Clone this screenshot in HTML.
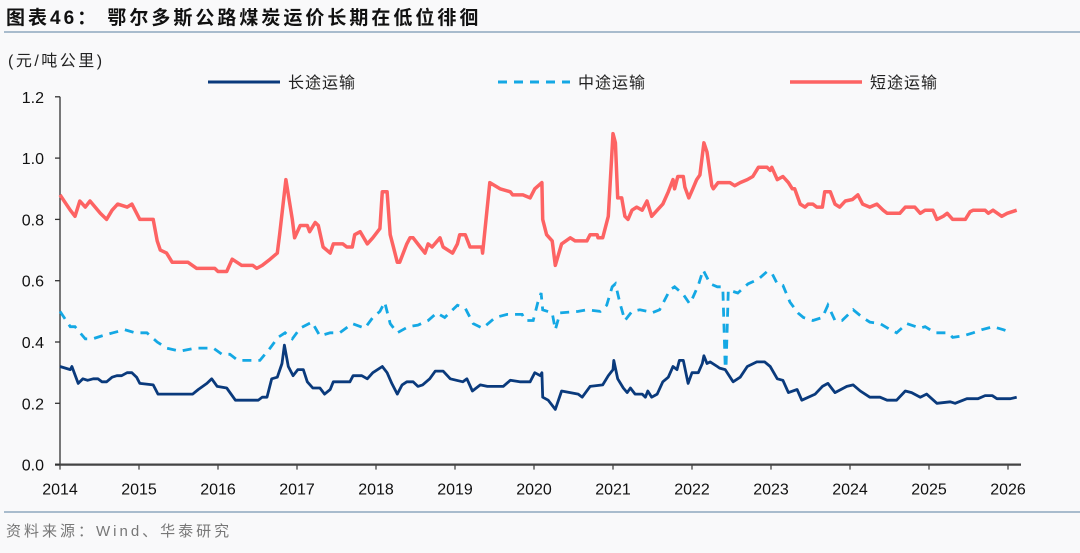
<!DOCTYPE html>
<html><head><meta charset="utf-8">
<style>
html,body{margin:0;padding:0;background:#f9f9fa;}
body{width:1080px;height:548px;overflow:hidden;font-family:"Liberation Sans","Noto Sans CJK SC",sans-serif;}
svg text{font-family:"Liberation Sans","Noto Sans CJK SC",sans-serif;}
</style></head>
<body>
<svg id="chart" width="1080" height="548" viewBox="0 0 1080 548" xmlns="http://www.w3.org/2000/svg">
<text x="6" y="24" font-size="19" font-weight="bold" fill="#111" letter-spacing="3">图表46：  鄂尔多斯公路煤炭运价长期在低位徘徊</text>
<rect x="4" y="31" width="1076" height="2" fill="#a9bccd"/>
<text x="8" y="66" font-size="16" fill="#222" letter-spacing="2.5">(元/吨公里)</text>
<g id="legend">
<line x1="208" y1="82" x2="280" y2="82" stroke="#0a3a7c" stroke-width="3"/>
<text x="288" y="88" font-size="16" fill="#222" letter-spacing="1">长途运输</text>
<line x1="498" y1="82" x2="570" y2="82" stroke="#14a8e4" stroke-width="3" stroke-dasharray="9,7"/>
<text x="578" y="88" font-size="16" fill="#222" letter-spacing="1">中途运输</text>
<line x1="790" y1="82" x2="862" y2="82" stroke="#fd6363" stroke-width="3.5"/>
<text x="870" y="88" font-size="16" fill="#222" letter-spacing="1">短途运输</text>
</g>
<g id="axes"></g>
<g id="series"></g>
<rect x="4" y="511" width="1076" height="2" fill="#a9bccd"/>
<text x="6" y="536" font-size="15" fill="#777" letter-spacing="3">资料来源：Wind、华泰研究</text>
</svg>
<script>
const yTicks=[0.0,0.2,0.4,0.6,0.8,1.0,1.2];
const xTicks=[2014,2015,2016,2017,2018,2019,2020,2021,2022,2023,2024,2025,2026];
const longX=[2014.00,2014.13,2014.15,2014.23,2014.29,2014.35,2014.42,2014.48,2014.53,2014.59,2014.66,2014.72,2014.78,2014.85,2014.91,2014.97,2015.01,2015.18,2015.24,2015.68,2015.75,2015.86,2015.92,2015.99,2016.11,2016.22,2016.51,2016.56,2016.62,2016.68,2016.75,2016.81,2016.84,2016.89,2016.95,2017.01,2017.08,2017.13,2017.20,2017.29,2017.35,2017.42,2017.46,2017.67,2017.71,2017.82,2017.89,2017.96,2018.08,2018.14,2018.20,2018.27,2018.33,2018.39,2018.47,2018.53,2018.59,2018.68,2018.75,2018.85,2018.94,2019.10,2019.15,2019.22,2019.32,2019.41,2019.61,2019.70,2019.82,2019.95,2020.01,2020.08,2020.10,2020.11,2020.18,2020.27,2020.35,2020.56,2020.61,2020.71,2020.87,2020.94,2021.00,2021.01,2021.06,2021.13,2021.18,2021.22,2021.28,2021.37,2021.41,2021.44,2021.49,2021.56,2021.63,2021.70,2021.76,2021.81,2021.84,2021.89,2021.95,2022.00,2022.08,2022.13,2022.15,2022.19,2022.23,2022.32,2022.35,2022.42,2022.52,2022.61,2022.70,2022.82,2022.92,2022.99,2023.08,2023.15,2023.22,2023.33,2023.39,2023.56,2023.65,2023.72,2023.81,2023.96,2024.04,2024.13,2024.25,2024.38,2024.47,2024.59,2024.70,2024.78,2024.89,2024.97,2025.10,2025.27,2025.33,2025.48,2025.62,2025.71,2025.80,2025.86,2026.03,2026.11];
const longY=[.32,.31,.32,.265,.28,.275,.28,.28,.27,.27,.285,.29,.29,.30,.30,.285,.265,.26,.23,.23,.245,.265,.28,.255,.25,.21,.21,.22,.22,.28,.285,.33,.39,.32,.29,.31,.31,.27,.25,.25,.23,.245,.27,.27,.29,.29,.28,.30,.32,.30,.265,.23,.26,.27,.27,.255,.26,.28,.305,.305,.28,.27,.28,.24,.26,.255,.255,.275,.27,.27,.30,.29,.30,.22,.21,.18,.24,.23,.22,.255,.26,.29,.31,.34,.28,.25,.235,.25,.23,.23,.22,.24,.22,.23,.27,.285,.32,.31,.34,.34,.265,.30,.30,.33,.355,.33,.335,.32,.315,.31,.27,.285,.32,.335,.335,.32,.28,.275,.235,.245,.21,.23,.255,.265,.235,.255,.26,.24,.22,.22,.21,.21,.24,.235,.22,.23,.20,.205,.20,.215,.215,.225,.225,.215,.215,.22];
const midX=[2014.00,2014.13,2014.19,2014.32,2014.41,2014.53,2014.67,2014.82,2014.95,2015.10,2015.23,2015.35,2015.52,2015.71,2015.94,2016.05,2016.15,2016.25,2016.53,2016.66,2016.76,2016.85,2016.94,2017.04,2017.19,2017.29,2017.42,2017.54,2017.70,2017.86,2017.96,2018.05,2018.11,2018.18,2018.27,2018.41,2018.53,2018.66,2018.77,2018.87,2019.03,2019.13,2019.23,2019.35,2019.51,2019.66,2019.85,2019.89,2019.99,2020.05,2020.09,2020.11,2020.23,2020.27,2020.33,2020.56,2020.67,2020.84,2020.92,2020.99,2021.03,2021.09,2021.15,2021.24,2021.34,2021.44,2021.49,2021.59,2021.72,2021.78,2021.89,2021.97,2022.01,2022.08,2022.14,2022.23,2022.32,2022.39,2022.42,2022.43,2022.46,2022.58,2022.71,2022.84,2022.95,2023.01,2023.08,2023.15,2023.24,2023.34,2023.41,2023.53,2023.65,2023.72,2023.81,2023.90,2024.04,2024.16,2024.25,2024.38,2024.51,2024.59,2024.72,2024.89,2024.95,2025.08,2025.24,2025.30,2025.43,2025.56,2025.67,2025.81,2025.94,2026.05];
const midY=[.50,.45,.45,.41,.41,.42,.43,.44,.43,.43,.40,.38,.37,.38,.38,.36,.36,.34,.34,.38,.415,.43,.41,.445,.465,.42,.43,.43,.46,.445,.48,.50,.53,.46,.43,.45,.455,.47,.495,.48,.52,.51,.46,.445,.48,.49,.49,.47,.47,.53,.56,.505,.495,.44,.495,.50,.505,.50,.52,.58,.59,.525,.47,.50,.505,.50,.495,.505,.57,.58,.555,.525,.545,.585,.635,.59,.58,.58,.32,.315,.57,.56,.59,.605,.63,.625,.59,.585,.53,.495,.48,.47,.48,.52,.47,.47,.505,.48,.465,.46,.44,.43,.46,.445,.45,.43,.43,.415,.42,.43,.44,.45,.44,.43];
const shortX=[2014.00,2014.13,2014.19,2014.25,2014.32,2014.38,2014.51,2014.59,2014.66,2014.73,2014.85,2014.91,2015.01,2015.14,2015.18,2015.23,2015.27,2015.35,2015.42,2015.62,2015.73,2015.96,2016.00,2016.11,2016.18,2016.24,2016.30,2016.44,2016.49,2016.56,2016.66,2016.75,2016.78,2016.86,2016.94,2016.97,2017.04,2017.13,2017.16,2017.23,2017.27,2017.33,2017.42,2017.46,2017.58,2017.63,2017.70,2017.73,2017.80,2017.89,2017.96,2018.05,2018.08,2018.14,2018.18,2018.22,2018.27,2018.30,2018.39,2018.43,2018.47,2018.56,2018.62,2018.66,2018.71,2018.81,2018.85,2018.97,2019.03,2019.06,2019.13,2019.19,2019.34,2019.35,2019.44,2019.57,2019.70,2019.73,2019.86,2019.95,2020.01,2020.10,2020.11,2020.16,2020.23,2020.27,2020.35,2020.46,2020.52,2020.67,2020.71,2020.80,2020.81,2020.87,2020.94,2021.00,2021.03,2021.06,2021.11,2021.15,2021.19,2021.24,2021.30,2021.37,2021.43,2021.49,2021.56,2021.63,2021.70,2021.76,2021.78,2021.82,2021.89,2021.91,2021.96,2022.01,2022.06,2022.10,2022.15,2022.19,2022.25,2022.27,2022.33,2022.48,2022.54,2022.61,2022.70,2022.77,2022.84,2022.95,2022.99,2023.01,2023.08,2023.15,2023.22,2023.27,2023.30,2023.37,2023.43,2023.47,2023.53,2023.58,2023.65,2023.68,2023.75,2023.81,2023.87,2023.94,2024.03,2024.10,2024.16,2024.25,2024.34,2024.42,2024.47,2024.63,2024.70,2024.82,2024.89,2024.95,2025.05,2025.10,2025.18,2025.23,2025.30,2025.46,2025.52,2025.56,2025.71,2025.75,2025.81,2025.92,2025.99,2026.11];
const shortY=[.88,.83,.81,.86,.84,.86,.82,.80,.83,.85,.84,.85,.80,.80,.80,.73,.70,.69,.66,.66,.64,.64,.63,.63,.67,.66,.65,.65,.64,.65,.67,.69,.75,.93,.80,.74,.78,.78,.76,.79,.78,.71,.69,.72,.72,.71,.71,.75,.76,.72,.74,.77,.89,.89,.75,.71,.66,.66,.72,.74,.74,.71,.69,.72,.71,.74,.71,.69,.72,.75,.75,.71,.71,.69,.92,.90,.89,.88,.88,.87,.90,.92,.80,.75,.73,.65,.72,.74,.73,.73,.75,.75,.74,.74,.81,1.08,1.05,.87,.87,.81,.80,.83,.84,.83,.86,.81,.83,.85,.89,.93,.90,.94,.94,.905,.87,.90,.93,.945,1.05,1.02,.91,.90,.92,.92,.91,.92,.93,.94,.97,.97,.96,.97,.93,.94,.92,.90,.90,.85,.84,.85,.85,.84,.84,.89,.89,.85,.84,.86,.865,.88,.85,.84,.85,.83,.82,.82,.84,.84,.82,.83,.83,.80,.81,.82,.80,.80,.825,.83,.83,.82,.83,.81,.82,.83];

const NS='http://www.w3.org/2000/svg';
const X0=60, XSTEP=79, Y0=464.6, YSCALE=306.5;
function xScale(yr){return X0+(yr-2014)*XSTEP;}
function yScale(v){return Y0-v*YSCALE;}
const axes=document.getElementById('axes');
const series=document.getElementById('series');
function mk(tag,attrs,parent){const e=document.createElementNS(NS,tag);for(const k in attrs)e.setAttribute(k,attrs[k]);parent.appendChild(e);return e;}

const yAxis=mk('line',{x1:X0,y1:yScale(1.2),x2:X0,y2:Y0,stroke:'#333','stroke-width':1.3},axes);


const xAxis=mk('line',{x1:X0-5,y1:Y0,x2:1021,y2:Y0,stroke:'#444','stroke-width':2.2},axes);


yTicks.forEach(v=>{
  const t=mk('line',{x1:X0-5,y1:yScale(v),x2:X0,y2:yScale(v),stroke:'#333','stroke-width':1.3},axes);
  
  
  const l=mk('text',{x:X0-16,y:yScale(v)+6,'text-anchor':'end','font-size':16,fill:'#111'},axes);
  l.textContent=v.toFixed(1);
  
  
});
xTicks.forEach(yr=>{
  const t=mk('line',{x1:xScale(yr),y1:Y0,x2:xScale(yr),y2:Y0+5,stroke:'#444','stroke-width':1.3},axes);
  
  
  const l=mk('text',{x:xScale(yr),y:Y0+30,'text-anchor':'middle','font-size':16,fill:'#111'},axes);
  l.textContent=String(yr);
  
  
});
function path(xs,ys){return xs.map((x,i)=>(i?'L':'M')+xScale(x).toFixed(1)+' '+yScale(ys[i]).toFixed(1)).join(' ');}
const pShort=mk('path',{d:path(shortX,shortY),fill:'none',stroke:'#fd6363','stroke-width':3.5,'stroke-linejoin':'round'},series);


const pMid=mk('path',{d:path(midX,midY),fill:'none',stroke:'#14a8e4','stroke-width':2.8,'stroke-dasharray':'9,7'},series);


const pLong=mk('path',{d:path(longX,longY),fill:'none',stroke:'#0a3a7c','stroke-width':2.8,'stroke-linejoin':'round'},series);


</script>
</body></html>
